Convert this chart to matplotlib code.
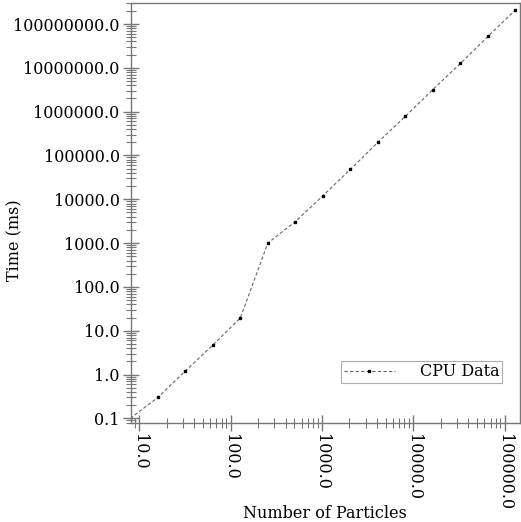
import matplotlib
matplotlib.use("Agg")
import matplotlib.pyplot as plt
from matplotlib.ticker import LogLocator, FuncFormatter, NullFormatter

particles = [8, 16, 32, 64, 128, 256, 512, 1024, 2048, 4096, 8192, 16384, 32768, 65536, 131072]
time_ms = [0.1, 0.3, 1.2, 4.7, 19.5, 1000, 3100, 12000, 48000, 200000, 780000,
           3.2e6, 1.26e7, 5.2e7, 2.1e8]

plt.rcParams['font.family'] = ['DejaVu Serif']
fig = plt.figure(figsize=(5.21, 5.22), dpi=100)
ax = fig.add_axes([0.251, 0.189, 0.747, 0.805])

ax.plot(particles, time_ms, linestyle=(0, (3, 2)), color='#666666', linewidth=0.8,
        marker='s', markersize=1.8, markerfacecolor='black', markeredgecolor='black',
        label='CPU Data')
ax.set_xscale('log')
ax.set_yscale('log')
ax.set_xlim(8.1, 147000)
ax.set_ylim(0.077, 3.0e8)

ax.xaxis.set_major_locator(LogLocator(base=10, numticks=20))
ax.yaxis.set_major_locator(LogLocator(base=10, numticks=20))
ax.xaxis.set_minor_locator(LogLocator(base=10, subs=range(2, 10), numticks=50))
ax.yaxis.set_minor_locator(LogLocator(base=10, subs=range(2, 10), numticks=50))
fmt = FuncFormatter(lambda v, p: f"{v:.1f}")
ax.xaxis.set_major_formatter(fmt)
ax.yaxis.set_major_formatter(fmt)
ax.xaxis.set_minor_formatter(NullFormatter())
ax.yaxis.set_minor_formatter(NullFormatter())

for s in ax.spines.values():
    s.set_color('#777777')
    s.set_linewidth(1.0)
ax.tick_params(which='major', direction='inout', length=12, width=1.0, color='#777777',
               labelsize=11.5, pad=2)
ax.tick_params(which='minor', direction='inout', length=7, width=0.8, color='#777777')
for lbl in ax.get_xticklabels():
    lbl.set_rotation(270)

fig.text(325 / 521, 1 - 513 / 522, 'Number of Particles', fontsize=11.5,
         ha='center', va='center')
fig.text(15 / 521, 1 - 240 / 522, 'Time (ms)', fontsize=11.5, rotation=90,
         ha='center', va='center')

leg = ax.legend(loc='lower right', bbox_to_anchor=(0.975, 0.078), fontsize=11.5,
                frameon=True, fancybox=False, handlelength=3.2, borderpad=0.15,
                handletextpad=1.6)
leg.get_frame().set_edgecolor('#999999')
leg.get_frame().set_linewidth(0.8)

fig.savefig('out.png', dpi=100)
